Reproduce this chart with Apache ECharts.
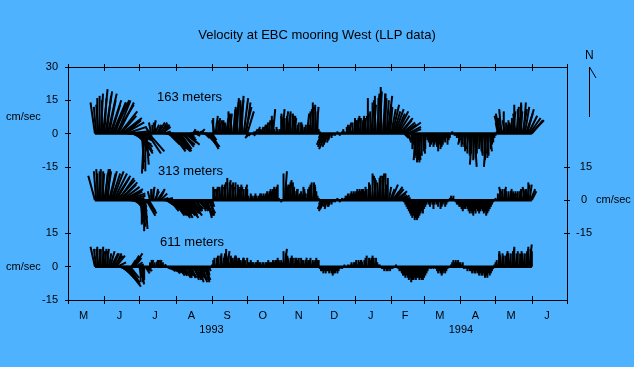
<!DOCTYPE html>
<html><head><meta charset="utf-8">
<script src="https://cdn.jsdelivr.net/npm/echarts@6/dist/echarts.min.js"></script>
<style>html,body{margin:0;padding:0;background:#4FB2FF;}#c{width:634px;height:367px;}</style>
</head><body><div id="c"></div>
<script>
// ---- data (cm/s), one stick per day starting 24 May 1993 ----
const firstDate = [1993, 4, 24];
const monthLetters = ['M','J','J','A','S','O','N','D','J','F','M','A','M','J'];
const yearLabels = ['1993','1994'];
const depthNames = ['163 meters','313 meters','611 meters'];
const chartTitle = 'Velocity at EBC mooring West (LLP data)';

const u163 = [-2,-1,0,-1,0, 1,0,2,1,3,2,4,3, 5,4,6,7,5,8,6,7, 8,7,9,8,9,7, 9,10,9,10,9, 9,8,8,7,7, 5,6,4, 1,0,-1,0,1, 6,7,
 -2,-1,0,1,2,-1, 2,3,4,3,4,3, 3,4,4,5, 5,6,7,6,5,7,6,5,6,4,5,6,5,4,5,6,4,3, 2,3,2,1,2,2,1,2, 1,2,1,2,3,2,3, 4,5,4,3,2,
 0,-1,1,0,1,0, 0,1,0,-1,0,1, 1,0,1,0,-1, 1,2,0,1,-1,2, 0,1,-1,2,3, 2,3,
 -1,-2,-1,0,1, 0,1,0,1,0,0,1,0,1,0,1,0,1,0,1,0,1, 0,0,0,0,0,0, 0,1,-1,0,1,0,1,-1,0,1,0,1,0,-1, 0,0,1,0,0,-1,0,0,1,0,0,
 0,1,0,-1,0,1,0, 0,0,-1,-2,-3,-3, -3,-2,-2,-1,-1,0, 0,0,0,0,0,0,0,0,0,0,0,0, 0,0,1,0,-1,0,1,0,0,1,0,-1,0,1,0,0,
 0,1,0,-1,0,1, 0,1,0,-1,1,0,1,0,-1,1, 1,0,1,2,1, 1,2,3,3,4,4,5,5,6,5,6, 6,2,7,2,6,1,5,1,
 0,1,0,-1,0,1,0,-1,0,1,0,0,-1, 0,0,0,0,0,0,0,0,0,0,0,0,0,0, 0,0,0,0,0,0, 0,0,0,0,
 0,0,1,0,-1,0,0,1,0,-1,0,1,0,0,-1,0,1,0,0,-1,0,1,0,0,1,0,-1,0,0,1,0, 0,0,0,0,0,
 -1,-2,-2,-1,-2,0,-1, 0,0,0,0,0, 0,1,0,-1,1,0,1, 1,0,2,1,2,3,3,4,5,6,5];
const v163 = [14,12,16,13,17, 18,15,20,16,19,17,18,15, 15,13,14,15,14,13,15,14, 10,8,7,6,5,6, 3,1,0,-1,-2, -3,-5,-6,-7,-8, -7,-9,-10, -13,-16,-18,-17,-14, -9,-8,
 3,5,4,6,4,5, 4,5,4,5,3,4, 1,0,-1,-2, -5,-6,-7,-8,-7,-8,-6,-7,-8,-6,-7,-5,-6,-5,-4,-5,-3,-2, -1,1,0,2,1,-1,0,1, 1,2,1,0,-1,-2,-3, -5,-6,-7,-5,-3,
 7,6,8,5,7,6, 5,6,4,6,5,7, 8,10,9,7,9, 11,14,10,16,12,15, 13,17,15,16,12, 14,10,
 -1,-2,-1,0,-1, 1,2,1,3,2,2,3,2,4,3,5,4,6,5,6,8,11, 2,1,3,2,1,2, 8,11,9,7,10,8,9,7,10,8,9,7,8,6, 4,5,3,5,4,5,3,4,9,5,4,
 10,12,14,11,13,12,10, 2,1,-2,-4,-5,-6, -7,-6,-5,-4,-3,-2, -1,0,-1,0,1,0,-1,0,1,2,1,0, 3,4,5,4,3,5,6,7,6,8,7,6,7,8,6,7,
 7,9,16,8,10,12, 14,13,17,15,18,16,19,21,17,18, 16,18,15,17,13, 12,11,13,10,11,9,10,8,7,6,5, 4,-2,5,-3,3,-4,2,-5,
 -7,-10,-11,-12,-13,-12,-13,-12,-10,-9,-8,-7,-5, -3,-4,-6,-5,-4,-6,-5,-4,-6,-8,-5,-7,-6,-5, -3,-4,-2,-5,-3,-2, 0,1,0,-1,
 -1,-2,-3,-4,-5,-6,-5,-7,-8,-6,-9,-8,-10,-9,-14,-12,-15,-11,-9,-8,-7,-9,-8,-10,-9,-12,-15,-11,-10,-8,-7, -5,-4,-2,-1,1,
 5,8,9,11,7,10,6, 5,4,6,5,4, 7,10,13,9,12,11,14, 10,13,11,14,12,9,11,8,7,6,6];

const u313 = [-3,-1,0,-1,0, 0,1,0,2,1,2,1,3, 3,4,5,6,7,6,8,7,8,7, 8,9,8,9,7,8,7,6, 7,6,6,5, 5,4,4,3, 1,0,1,0,1, 4,4,3,
 -1,0,1,0,2,1, 3,3,2,3, 3,3,4,3, 3,4,5,4,5,6,5,4,5,6,5,6,4,5,4,5,6,5,4,3,4,5,4,3,4,3,2,3, 2,3,2,3,2,3, 3,2,3,2,1,1,
 0,0,1,0,-1,0,1,0,0,1,0,-1,0,1,0,0,1,0,-1,0,1,0,0,1,0,-1,0,1,0,0,
 0,0,0,0,0,0,0,0,0,0,0,0,0,0,0,0,0,0,0,0,0,0,0,0,0,0,0,0,0,0,
 0,1,0,0, 0,1,0,-1,0,0,1,0,0,-1,0,0,1,0,0,0,1,0,0, 0,0,1,0,0,0,0,
 0,0,-1,-2,-2,-2,-1,-1,0,0,-1,0,0,
 0,0,0,0,0,0,0,0,0, 0,0,0,0,0,0,0,0,0,0,0,0,0,0,0,0,0,0, 0,0,1,0,0,-1, 0,1,0,-1,0,1,0,0,1,0,-1,0,
 0,0,1,2,3,3,4,4,5,4, 4,5,4,3,3,
 0,0,0,0,0,0,0,0,0,0,0,0,0,0,0,0,0,0,0,0,0,0,0,0,0,0,0,0,0,0,0,0,0,0,0,0,0,0,0,0,
 0,0,0,0,0,0,0,0,0,0,0,0,0,0,0,0,0,0,0,0,0,0,0,0,0,0,0,0,0,0,0,0,0,0,0,0,0,0,0,0,
 0,1,0,-1,0,1,0,0,-1,0,1,0,0,0,1,0,-1,0,1,0,0,1,0,-1,0,1,0,1,2,2];
const v313 = [11,13,12,14,13, 14,12,13,14,12,13,14,12, 13,12,13,12,11,10,9,10,8,7, 6,5,4,3,4,2,1,0, -1,-2,-3,-4, -5,-6,-8,-9, -10,-11,-12,-14,-13, -7,-6,-5,
 4,5,6,5,4,5, 4,5,4,3, 1,0,1,-1, -2,-3,-4,-5,-5,-6,-7,-6,-7,-8,-7,-6,-7,-8,-6,-7,-8,-7,-6,-5,-6,-7,-5,-6,-4,-5,-4,-3, -3,-4,-5,-4,-5,-6, -7,-8,-6,-7,-5,-3,
 6,5,6,4,5,6,7,6,5,8,7,6,10,9,8,7,6,8,7,8,6,7,5,6,7,6,5,7,6,5,
 2,1,3,2,1,2,3,2,1,2,3,3,2,3,2,3,4,3,4,5,4,5,6,5,6,7, 1,0,-1,0, 12,13,8,6, 7,9,8,7,8,6,5,4,5,4,3,4,5,6,4,3,4,5,6,
 7,8,7,8,6,4,2, 1,0,-2,-4,-5,-4, -3,-4,-3,-2,-3,-2,-1, 0,-1,0,1,0,-1,0,1,0, 1,2,2,3,2,3,4,3,4,3,4,5,4,5,4,5,5,4,
 6,5,7,8,6,7, 12,9,10,11,8,11,10,9,12,10,11,12, 7,10,6,5,7,4,6,5,4,3, 2,1,2,1,0,
 -1,-2,-3,-4,-5,-6,-7,-8,-7,-9,-8,-9,-8,-7,-6,-5,-6,-4,-3, -2,-1,-2,-3,-1,-2,-4,-2,-1,-2,-3,-1,-4, -3,-2,-1,-3,-2,-1,0, 1,2,1,2,0,
 -1,-2,-2,-3,-3,-4,-5,-4,-4,-3,-4,-5,-6,-5,-6,-7,-5,-6,-4,-5,-6,-5,-4,-5,-6,-5,-7,-6,-5,-4,-3,-2, -1,0,1,0,
 3,4,5,6,5,6,5,4,5,4,5,4,3,4,3,4,3,4,5,4,5,4,5,6,5,7,8,7,5,4];

const u611 = [-2,-1,0,-1,0, 0,1,0,1,0,1,0,1, 2,3,3,4,3,4, 4,5,4,5, 5,6,7,7,6,5,4,4, 2,3,4,3, 3,3,2, 1,0,1,0,0, 2,2,2,1,
 0,1,0,-1,0,1,0,0,1,0,-1,0,1,0, 2,2,3,2,3,2,3,3,2,3,3,2,3,3,2,3,4,3,2,3,3,2,3,3,2,3,2,3,2,3,2,2,3,2,1, 1,1,0,0,0,
 0,0,1,0,0,-1,0,0,1,0,0,0,1,0,-1,0,0,1,0,0,0,-1,0,0,1,0,0,0,-1,0,
 0,0,0,0,0,0,0,0,0,0,0,0,0,0,0,0,0,0,0,0,0,0,0,0,0,0,0,0,0,0,
 0,1,0,0,0,-1,0,0,0,1,0,0,0,0,-1,0,0,0,1,0,0,0,0,0,-1,0,0,0,0,0,
 0,0,0,0,0,0,0,0,0,0,0,0,0,0,0,0,0,0,0,0,0,0,0,0,0,0,0,0,0,0,
 0,0,0,1,0,0,0,0,-1,0,0,0,1,0,0,0,0,0,-1,0,0,0,0,0,0,0,0,0,0,0,
 0,0,0,0,0,0,0,0,0,0,0,0,0,0,0,0,0,0,0,0,0,0,0,0,0,0,0,0,0,0,
 0,0,0,0,0,0,0,0,0,0,0,0,0,0,0,0,0,0,0,0,0,0,0,0,0,0,0,0,0,0,
 0,0,0,0,0,0,0,0,0,0,0,0,0,0,0,0,0,0,0,0,0,0,0,0,0,0,0,0,0,0,
 0,0,0,1,0,0,-1,0,0,1,0,0,0,-1,0,1,0,0,-1,0,0,1,0,0,0,-1,0,1,0,0,1,0,0];
const v611 = [9,8,9,8,8, 8,7,9,8,7,8,7,6, 7,6,6,5,6,5, 2,0,-1,-3, -4,-6,-7,-9,-8,-7,-6,-5, 3,5,6,4, 2,1,0, -5,-7,-8,-7,-6, -3,-2,-2,-1,
 2,3,2,3,2,3,2,3,3,2,3,2,1,1, -1,-1,-2,-1,-2,-2,-3,-2,-3,-3,-4,-3,-4,-3,-4,-5,-4,-4,-5,-4,-5,-5,-4,-5,-6,-5,-6,-5,-7,-6,-6,-7,-6,-7,-6, -4,-2,-1,0,1,
 3,4,3,4,5,4,5,6,5,4,6,8,7,5,4,5,4,5,4,3,4,5,4,3,4,3,4,3,3,4,
 2,2,3,2,2,1,2,2,3,2,2,1,2,2,1,2,2,3,2,2, 2,3,2,3,3,4,3,2,3,2, 7,8,6, 4,3,5,4,
 5,4,3,4,4,3,4,3,4,3,3,4,3,2,3,3,4,3,3,2,3,4,3, 3,
 -1,-2,-2,-3,-2,-3,-2,-2,-3,-2,-3,-4,-3,-3,-2,-3,-2,-1, 0,-1,0,1,0,0,1,0,
 1,2,1,2,2,3,2,3,2,3,2,3,3,4,5,3,4,3,4,5,4,3,4, 2,1,1,0, -1,-1,-2,-1,-2,-2,-1,-2,-1,-1, 0,0,1,0,
 -1,-2,-2,-3,-4,-4,-5,-4,-5,-6,-5,-7,-6,-6,-5,-6,-5,-5,-6,-5,-6,-6,-5,-4,-3,
 -2,-1,0,-1,0,-1,0,-1, -2,-3,-2,-3,-4,-3,-2,-3,-2, -1,0,0, 1,2,3,2,3,2,3,2,2,1,2, -1,0,-1,
 -2,-1,-2,-2,-3,-2,-3,-3,-2,-3,-4,-3,-4,-4,-3,-5,-4,-5,-3,-4,-3,-2,
 -1,1,2,3,4,6,5,7,6,5,6,5,4,6,7,6,8,7,9,7,6,7,5,6,5,6,7,6,8,7,9,10,8,7];

// ---- derived helpers ----
const DAY = 86400000;
const ORIGIN = Date.UTC(1993, 4, 1);
const dayNum = (y, m, d) => (Date.UTC(y, m, d) - ORIGIN) / DAY;
const firstDay = dayNum(firstDate[0], firstDate[1], firstDate[2]);
const xMin = 0, xMax = dayNum(1994, 6, 1);
const monthStarts = [];
for (let k = 0; k <= monthLetters.length; k++) monthStarts.push(dayNum(1993, 4 + k, 1));
const monthMids = monthLetters.map((_, k) => (monthStarts[k] + monthStarts[k + 1]) / 2);
const yearBreak = dayNum(1994, 0, 1);
const yearMids = [(xMin + yearBreak) / 2, (yearBreak + xMax) / 2];

const FONT = 'Liberation Sans, Arial, sans-serif';
const depthSets = [
  { name: depthNames[0], u: u163, v: v163, base: 60 },
  { name: depthNames[1], u: u313, v: v313, base: 30 },
  { name: depthNames[2], u: u611, v: v611, base: 0 }
];

function renderStick(params, api) {
  const base = api.coord([api.value(0), api.value(3)]);
  const k = api.size([0, 1])[1];
  return {
    type: 'line',
    shape: { x1: base[0], y1: base[1], x2: base[0] + api.value(1) * k, y2: base[1] - api.value(2) * k },
    style: { stroke: '#000', lineWidth: 2 }
  };
}

const series = [];
depthSets.forEach(d => {
  const n = Math.min(d.u.length, d.v.length);
  const data = [];
  for (let i = 0; i < n; i++) data.push([firstDay + i, d.u[i], d.v[i], d.base]);
  series.push({ type: 'custom', name: d.name, renderItem: renderStick, data: data, clip: false, silent: true,
    encode: { x: 0, y: 3 } });
  series.push({ type: 'line', data: [[firstDay, d.base], [firstDay + n - 1, d.base]], symbol: 'none', silent: true,
    lineStyle: { color: '#000', width: 2.5 } });
});

const txt = { color: '#000', fontFamily: FONT, fontSize: 11 };
const line0 = (show) => ({ show: show, onZero: false, lineStyle: { color: '#000', width: 1 } });
const baseX = { type: 'value', min: xMin, max: xMax, splitLine: { show: false } };
const baseY = { type: 'value', min: -15, max: 90, interval: 15, splitLine: { show: false } };
const leftVals = [-15, 0, 15, 45, 60, 75, 90];
const rightVals = [15, 30, 45];
const tickStyle = { color: '#000', width: 1 };

const option = {
  backgroundColor: '#4FB2FF',
  animation: false,
  title: { text: chartTitle, left: 'center', top: 24, textStyle: { color: '#000', fontFamily: FONT, fontSize: 13, fontWeight: 'normal' } },
  grid: { left: 68, right: 67, top: 67, bottom: 67 },
  xAxis: [
    Object.assign({}, baseX, { position: 'bottom', axisLine: line0(true),
      axisTick: { show: true, length: 4, customValues: monthStarts, lineStyle: tickStyle },
      axisLabel: Object.assign({ margin: 10, padding: [0, 5, 0, 0], customValues: monthMids,
        formatter: (val) => { const k = monthMids.findIndex(m => Math.abs(m - val) < 0.01); return k >= 0 ? monthLetters[k] : ''; } }, txt) }),
    Object.assign({}, baseX, { position: 'bottom', axisLine: line0(false),
      axisTick: { show: true, inside: true, length: 4, customValues: monthStarts, lineStyle: tickStyle },
      axisLabel: { show: false } }),
    Object.assign({}, baseX, { position: 'bottom', offset: 14, axisLine: line0(false), axisTick: { show: false },
      axisLabel: Object.assign({ margin: 10, customValues: yearMids,
        formatter: (val) => { const k = yearMids.findIndex(m => Math.abs(m - val) < 0.01); return k >= 0 ? yearLabels[k] : ''; } }, txt) }),
    Object.assign({}, baseX, { position: 'top', axisLine: line0(true),
      axisTick: { show: true, length: 3, customValues: monthStarts, lineStyle: tickStyle },
      axisLabel: { show: false } }),
    Object.assign({}, baseX, { position: 'top', axisLine: line0(false),
      axisTick: { show: true, inside: true, length: 4, customValues: monthStarts, lineStyle: tickStyle },
      axisLabel: { show: false } })
  ],
  yAxis: [
    Object.assign({}, baseY, { position: 'left', axisLine: line0(true),
      axisTick: { show: true, length: 3, customValues: leftVals, lineStyle: tickStyle },
      axisLabel: Object.assign({ margin: 10, customValues: leftVals, formatter: (v) => String(v >= 45 ? v - 60 : v) }, txt) }),
    Object.assign({}, baseY, { position: 'left', axisLine: line0(false),
      axisTick: { show: true, inside: true, length: 3, customValues: leftVals, lineStyle: tickStyle },
      axisLabel: { show: false } }),
    Object.assign({}, baseY, { position: 'right', axisLine: line0(true),
      axisTick: { show: true, length: 3, customValues: rightVals, lineStyle: tickStyle },
      axisLabel: Object.assign({ margin: 9, customValues: rightVals,
        formatter: (v) => v === 30 ? '{n|0}{u|cm/sec}' : '{n|' + (v - 30) + '}',
        rich: { n: { width: 16, align: 'right', color: '#000', fontFamily: FONT, fontSize: 11 },
                u: { color: '#000', fontFamily: FONT, fontSize: 11, padding: [0, 0, 0, 4] } } }, txt) }),
    Object.assign({}, baseY, { position: 'right', axisLine: line0(false),
      axisTick: { show: true, inside: true, length: 3, customValues: rightVals, lineStyle: tickStyle },
      axisLabel: { show: false } })
  ],
  series: series,
  graphic: [
    { type: 'text', left: 157, top: 91, style: { text: depthNames[0], fill: '#000', font: '13px ' + FONT } },
    { type: 'text', left: 158, top: 165, style: { text: depthNames[1], fill: '#000', font: '13px ' + FONT } },
    { type: 'text', left: 160, top: 236, style: { text: depthNames[2], fill: '#000', font: '13px ' + FONT } },
    { type: 'text', left: 6, top: 111, style: { text: 'cm/sec', fill: '#000', font: '11px ' + FONT } },
    { type: 'text', left: 6, top: 261, style: { text: 'cm/sec', fill: '#000', font: '11px ' + FONT } },
    { type: 'text', left: 585, top: 50, style: { text: 'N', fill: '#000', font: '12px ' + FONT } },
    { type: 'line', shape: { x1: 589.5, y1: 67, x2: 589.5, y2: 117 }, style: { stroke: '#000', lineWidth: 1 } },
    { type: 'line', shape: { x1: 589.5, y1: 67, x2: 596, y2: 78 }, style: { stroke: '#000', lineWidth: 1 } }
  ]
};
const chart = echarts.init(document.getElementById('c'));
chart.setOption(option);
</script></body></html>
